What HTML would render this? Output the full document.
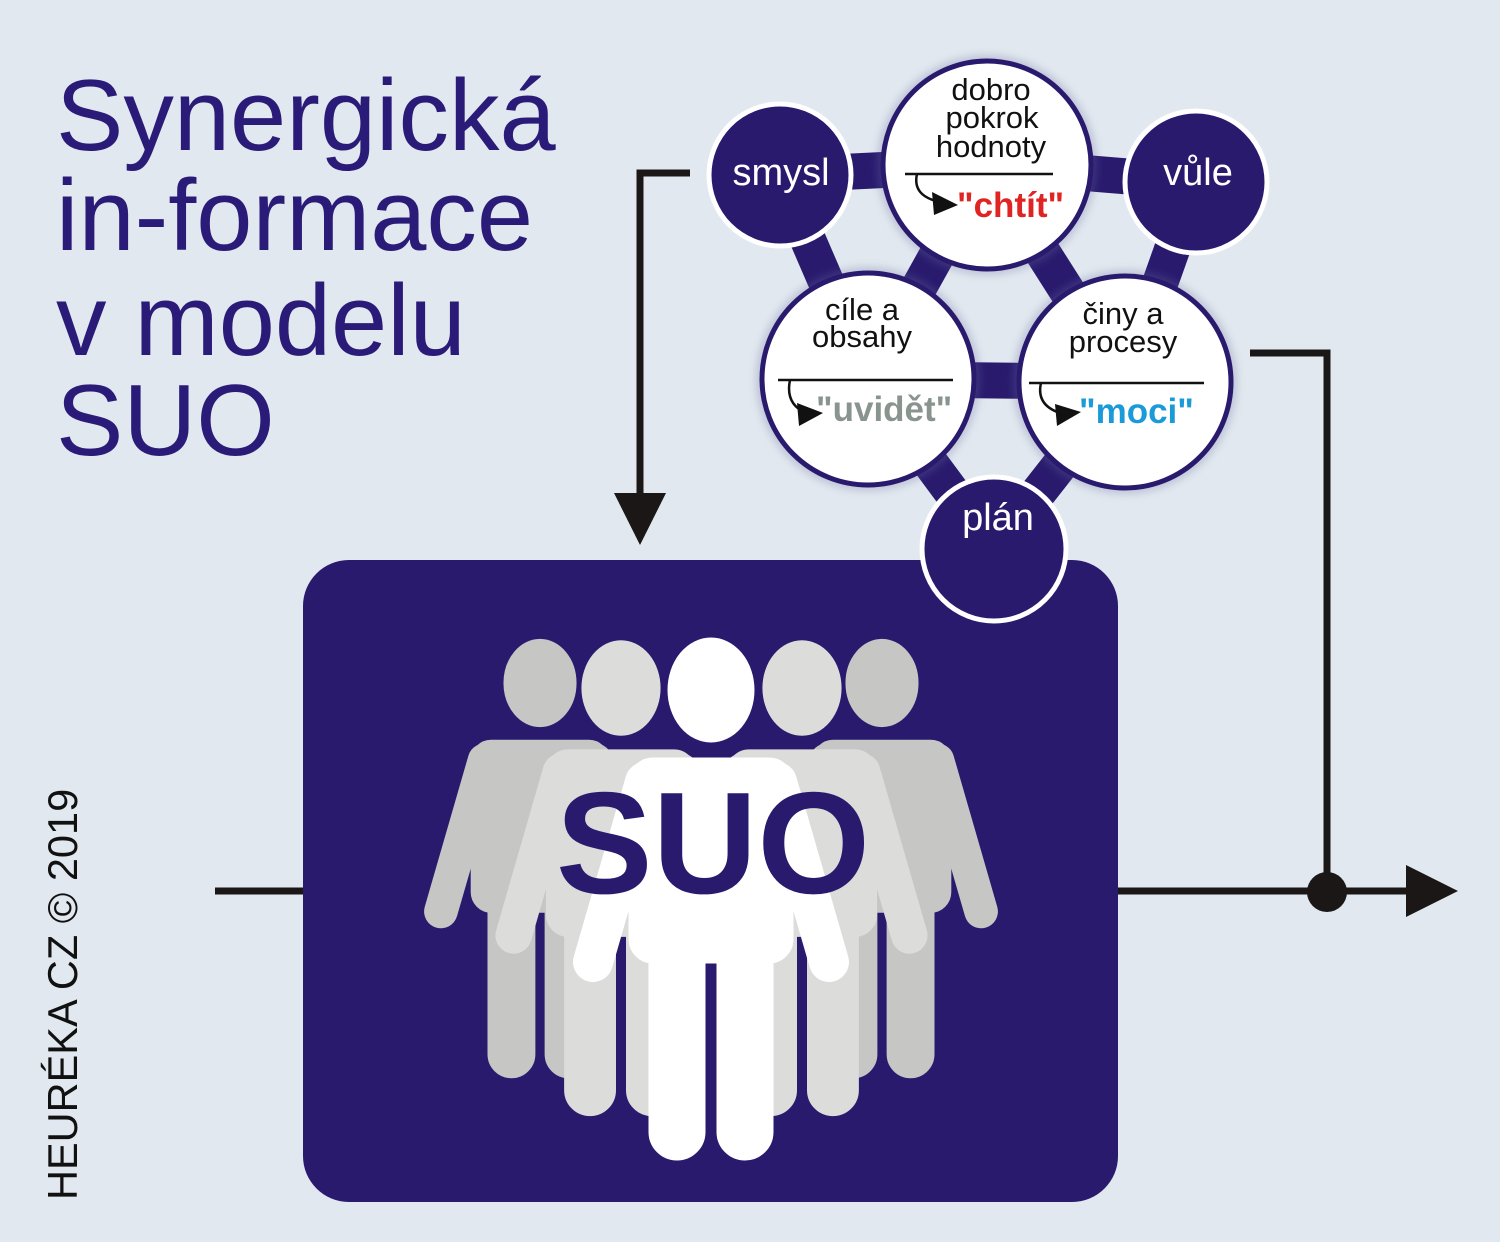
<!DOCTYPE html>
<html><head><meta charset="utf-8"><style>
html,body{margin:0;padding:0;background:#e1e8ef;}
svg{display:block;}
</style></head><body>
<svg width="1500" height="1242" viewBox="0 0 1500 1242" xmlns="http://www.w3.org/2000/svg" font-family="'Liberation Sans', sans-serif">
<defs>
<filter id="sh" x="-20%" y="-20%" width="140%" height="140%"><feGaussianBlur stdDeviation="4"/></filter>
<g id="person">
  <ellipse cx="0" cy="0" rx="43" ry="52"/>
  <rect x="-82" y="68" width="164" height="205" rx="24"/>
  <line x1="-66" y1="92" x2="-118" y2="272" stroke-width="40" stroke-linecap="round"/>
  <line x1="66" y1="92" x2="118" y2="272" stroke-width="40" stroke-linecap="round"/>
  <rect x="-62" y="240" width="56" height="230" rx="28"/>
  <rect x="6" y="240" width="56" height="230" rx="28"/>
</g>
</defs>
<rect width="1500" height="1242" fill="#e1e8ef"/>

<g fill="#2b1b78" font-size="101">
<text x="56" y="150">Synergická</text>
<text x="56" y="250">in-formace</text>
<text x="56" y="355">v modelu</text>
<text x="56" y="455">SUO</text>
</g>
<text transform="translate(77,1200) rotate(-90)" font-size="41.5" fill="#111">HEURÉKA CZ © 2019</text>

<g stroke="#1a1716" stroke-width="7" fill="none">
<polyline points="690,173 640,173 640,500"/>
<line x1="215" y1="891" x2="305" y2="891"/>
<line x1="1115" y1="891" x2="1410" y2="891"/>
<polyline points="1250,353 1327,353 1327,891"/>
</g>
<polygon points="614,493 666,493 640,545" fill="#1a1716"/>
<polygon points="1406,865 1458,891 1406,917" fill="#1a1716"/>
<circle cx="1327" cy="892" r="20" fill="#1a1716"/>

<rect x="303" y="560" width="815" height="642" rx="46" fill="#291a6e"/>

<g fill="#c6c6c4" stroke="#c6c6c4">
<use href="#person" transform="translate(540,683) scale(0.84)"/>
<use href="#person" transform="translate(882,683) scale(0.84)"/>
</g>
<g fill="#dcdcda" stroke="#dcdcda">
<use href="#person" transform="translate(621,688) scale(0.91)"/>
<use href="#person" transform="translate(802,688) scale(0.91)"/>
</g>
<g fill="#ffffff" stroke="#ffffff">
<use href="#person" transform="translate(711,690)"/>
</g>
<text x="713" y="893" font-size="145" font-weight="bold" fill="#291a6e" text-anchor="middle">SUO</text>

<g stroke="#291a6e" stroke-width="36">
<line x1="780" y1="175" x2="987" y2="165"/>
<line x1="987" y1="165" x2="1196" y2="182"/>
<line x1="780" y1="175" x2="868" y2="379"/>
<line x1="987" y1="165" x2="868" y2="379"/>
<line x1="987" y1="165" x2="1125" y2="382"/>
<line x1="1196" y1="182" x2="1125" y2="382"/>
<line x1="868" y1="379" x2="1125" y2="382"/>
<line x1="868" y1="379" x2="994" y2="549"/>
<line x1="1125" y1="382" x2="994" y2="549"/>
</g>

<g fill="#6c6fa0" opacity="0.3" filter="url(#sh)">
<circle cx="987" cy="165" r="110"/>
<circle cx="868" cy="379" r="112"/>
<circle cx="1125" cy="382" r="112"/>
</g>

<g fill="#291a6e" stroke="#ffffff" stroke-width="5">
<circle cx="780" cy="175" r="71"/>
<circle cx="1196" cy="182" r="71"/>
<circle cx="994" cy="549" r="72"/>
</g>
<g fill="#fff" font-size="38" text-anchor="middle">
<text x="781" y="185">smysl</text>
<text x="1198" y="185">vůle</text>
<text x="998" y="530">plán</text>
</g>

<g fill="#ffffff" stroke="#291a6e" stroke-width="5">
<circle cx="987" cy="165" r="104"/>
<circle cx="868" cy="379" r="106"/>
<circle cx="1125" cy="382" r="106"/>
</g>

<g fill="#111" font-size="31" text-anchor="middle">
<text x="991" y="100">dobro</text>
<text x="992" y="128">pokrok</text>
<text x="991" y="157">hodnoty</text>
<text x="862" y="320">cíle a</text>
<text x="862" y="347">obsahy</text>
<text x="1123" y="324">činy a</text>
<text x="1123" y="352">procesy</text>
</g>

<g stroke="#111" stroke-width="2.5" fill="none">
<line x1="905" y1="174" x2="1053" y2="174"/>
<path d="M917,174 Q912,196 940,202"/>
<line x1="778" y1="380" x2="953" y2="380"/>
<path d="M790,380 Q785,404 806,413"/>
<line x1="1029" y1="383" x2="1204" y2="383"/>
<path d="M1041,383 Q1036,405 1060,413"/>
</g>
<g fill="#111">
<polygon points="932,192 958,205 934,215"/>
<polygon points="797,403 823,413 799,426"/>
<polygon points="1055,404 1081,412 1057,426"/>
</g>
<g font-size="35" font-weight="bold">
<text x="957" y="217" fill="#e02424">"chtít"</text>
<text x="816" y="421" fill="#8a948f">"uvidět"</text>
<text x="1079" y="423" fill="#1a9ad8">"moci"</text>
</g>
</svg>
</body></html>
